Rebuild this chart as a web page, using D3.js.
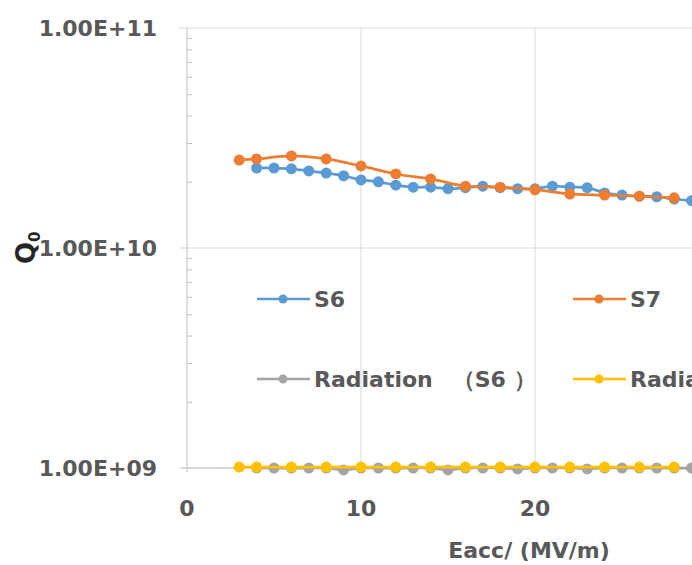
<!DOCTYPE html>
<html>
<head>
<meta charset="utf-8">
<script src="https://cdn.jsdelivr.net/npm/d3@7"></script>
<style>
  body { margin: 0; background: #fff; }
  svg text { font-family: "DejaVu Sans", sans-serif; font-weight: bold; }
</style>
</head>
<body>
<div id="chart"></div>
<script>
// Q0 vs Eacc, log scale
var s6X = [4, 5, 6, 7, 8, 9, 10, 11, 12, 13, 14, 15, 16, 17, 18, 19, 20, 21, 22, 23, 24, 25, 26, 27, 28, 29];
var s6Q = [2.31e10, 2.31e10, 2.29e10, 2.24e10, 2.19e10, 2.13e10, 2.04e10, 2.0e10, 1.93e10, 1.89e10, 1.89e10, 1.86e10, 1.88e10,
           1.91e10, 1.88e10, 1.86e10, 1.86e10, 1.91e10, 1.89e10, 1.88e10, 1.78e10, 1.74e10, 1.72e10, 1.71e10, 1.67e10, 1.64e10];
var s7X = [3, 4, 6, 8, 10, 12, 14, 16, 18, 20, 22, 24, 26, 28];
var s7Q = [2.51e10, 2.54e10, 2.62e10, 2.54e10, 2.36e10, 2.17e10, 2.06e10, 1.91e10, 1.89e10, 1.84e10, 1.76e10, 1.74e10, 1.72e10, 1.69e10];
var rad6Q = [1.0e9, 1.0e9, 1.0e9, 1.0e9, 1.0e9, 0.98e9, 1.0e9, 1.0e9, 1.0e9, 1.0e9, 1.0e9, 0.98e9, 1.0e9,
             1.0e9, 1.0e9, 0.99e9, 1.0e9, 1.0e9, 1.0e9, 0.99e9, 1.0e9, 1.0e9, 1.0e9, 1.0e9, 1.0e9, 1.0e9];
var rad7Q = [1.01e9, 1.01e9, 1.01e9, 1.01e9, 1.01e9, 1.01e9, 1.01e9, 1.01e9, 1.01e9, 1.01e9, 1.01e9, 1.01e9, 1.01e9, 1.01e9];

var seriesNames = ["S6", "S7", "Radiation（S6）", "Radiation（S7）"];
var seriesColors = ["#5B9BD5", "#ED7D31", "#A5A5A5", "#FFC000"];
var xTicks = [0, 10, 20, 30, 40];
var yTicks = [1e9, 1e10, 1e11];

var width = 692, height = 565;
var mLeft = 187, mTop = 28, mBottom = 468;

var svg = d3.select("#chart").append("svg")
    .attr("width", width)
    .attr("height", height);

var x = d3.scaleLinear().domain([0, 40]).range([mLeft, mLeft + 17.4 * 40]);
var y = d3.scaleLog().domain([1e9, 1e11]).range([mBottom, mTop]);
var mRight = x(40);

// gridlines
svg.append("g").selectAll("line")
    .data(xTicks.filter(function(d) { return d > 0; }))
    .enter().append("line")
    .attr("x1", function(d) { return x(d); }).attr("x2", function(d) { return x(d); })
    .attr("y1", mTop).attr("y2", mBottom)
    .attr("stroke", "#d9d9d9").attr("stroke-width", 1);

svg.append("g").selectAll("line")
    .data(yTicks)
    .enter().append("line")
    .attr("x1", mLeft - 8).attr("x2", mRight)
    .attr("y1", function(d) { return y(d); }).attr("y2", function(d) { return y(d); })
    .attr("stroke", "#d9d9d9").attr("stroke-width", 1);

// y axis with minor ticks inside
var minor = [];
[1e9, 1e10].forEach(function(dec) {
  for (var k = 2; k <= 9; k++) minor.push(dec * k);
});
var yAxis = svg.append("g").attr("transform", "translate(" + mLeft + ",0)")
    .call(d3.axisRight(y).tickValues(minor).tickSize(5).tickFormat(""));
yAxis.select(".domain").attr("stroke", "#bfbfbf").attr("d", "M0," + mTop + "V" + (mBottom + 4));
yAxis.selectAll(".tick line").attr("stroke", "#bfbfbf");

svg.append("line")
    .attr("x1", mLeft - 5).attr("x2", mRight)
    .attr("y1", mBottom).attr("y2", mBottom)
    .attr("stroke", "#bfbfbf");

// tick labels
svg.append("g").selectAll("text")
    .data(yTicks)
    .enter().append("text")
    .attr("x", 157)
    .attr("y", function(d) { return y(d); })
    .attr("dy", "0.36em")
    .attr("text-anchor", "end")
    .attr("font-size", 22)
    .attr("fill", "#595959")
    .text(function(d) { return d3.format(".2e")(d).toUpperCase().replace(/E\+(\d)$/, "E+0$1"); });

svg.append("g").selectAll("text")
    .data(xTicks.filter(function(d) { return x(d) < width - 10; }))
    .enter().append("text")
    .attr("x", function(d) { return x(d); })
    .attr("y", 508)
    .attr("dy", "0.36em")
    .attr("text-anchor", "middle")
    .attr("font-size", 22)
    .attr("fill", "#595959")
    .text(function(d) { return d; });

// axis titles
svg.append("text")
    .attr("x", 529).attr("y", 550).attr("dy", "0.36em")
    .attr("text-anchor", "middle")
    .attr("font-size", 22)
    .attr("fill", "#595959")
    .text("Eacc/ (MV/m)");

var yt = svg.append("text")
    .attr("transform", "translate(35,264) rotate(-90)")
    .attr("font-size", 26)
    .attr("fill", "#262626");
yt.append("tspan").text("Q");
yt.append("tspan").attr("dy", 5).attr("font-size", 15).text("0");

// series
var series = [
  { x: s6X, q: s6Q },
  { x: s7X, q: s7Q },
  { x: s6X, q: rad6Q },
  { x: s7X, q: rad7Q }
];

var line = d3.line()
    .x(function(d) { return x(d[0]); })
    .y(function(d) { return y(d[1]); })
    .curve(d3.curveCatmullRom);

series.forEach(function(s, i) {
  var pts = s.x.map(function(v, j) { return [v, s.q[j]]; });
  var g = svg.append("g");
  g.append("path")
      .datum(pts)
      .attr("d", line)
      .attr("fill", "none")
      .attr("stroke", seriesColors[i])
      .attr("stroke-width", 2.75);
  g.selectAll("circle")
      .data(pts)
      .enter().append("circle")
      .attr("cx", function(d) { return x(d[0]); })
      .attr("cy", function(d) { return y(d[1]); })
      .attr("r", 5.5)
      .attr("fill", seriesColors[i]);
});

// legend
var legend = svg.append("g").selectAll("g")
    .data(seriesNames)
    .enter().append("g")
    .attr("transform", function(d, i) {
      return "translate(" + (257 + (i % 2) * 316) + "," + (299 + Math.floor(i / 2) * 80) + ")";
    });
legend.append("line")
    .attr("x1", 0).attr("x2", 53)
    .attr("stroke", function(d, i) { return seriesColors[i]; })
    .attr("stroke-width", 2.5);
legend.append("circle")
    .attr("cx", 26).attr("r", 4.5)
    .attr("fill", function(d, i) { return seriesColors[i]; });
var lt = legend.append("text")
    .attr("x", 57).attr("dy", "0.36em")
    .attr("font-size", 22)
    .attr("fill", "#595959");
// full-width brackets get extra room like the CJK original
lt.each(function(d) {
  var t = d3.select(this);
  d.split(/([（）])/).forEach(function(part) {
    if (!part) return;
    var sp = t.append("tspan").text(part);
    if (part === "（") sp.attr("dx", 20);
    else if (part === "）") sp.attr("dx", 8);
  });
});
</script>
</body>
</html>
